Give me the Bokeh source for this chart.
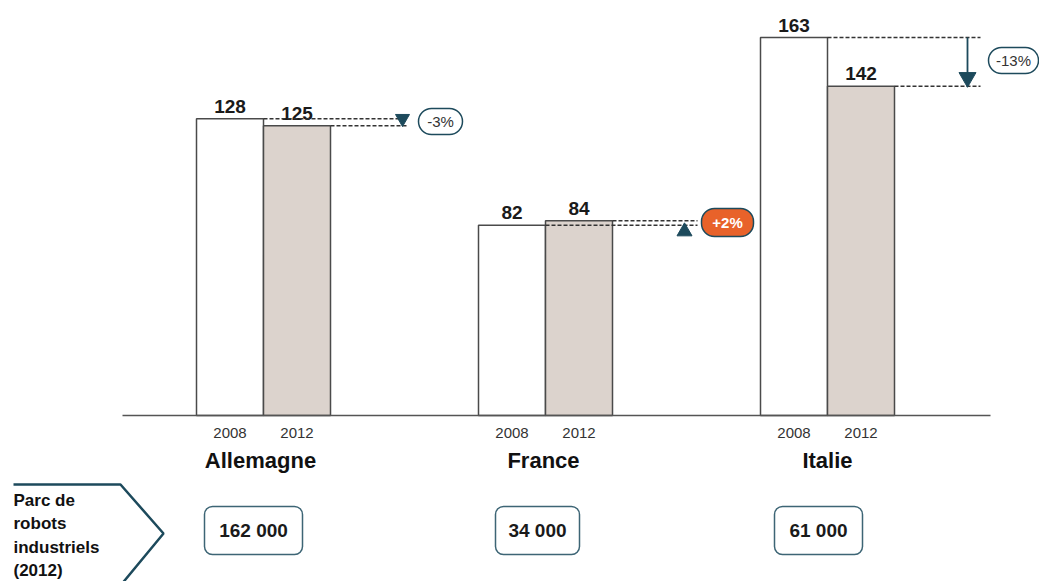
from bokeh.plotting import figure
from bokeh.models import Range1d
from bokeh.core.properties import value
from bokeh.embed import file_html
from bokeh.resources import INLINE

countries = ["Allemagne", "France", "Italie"]
years = ["2008", "2012"]
v2008 = [128, 82, 163]
v2012 = [125, 84, 142]
changes = ["-3%", "+2%", "-13%"]
parc = ["162 000", "34 000", "61 000"]
side_label = "Parc de\nrobots\nindustriels\n(2012)"

W, H = 1039, 581
K = 2.319  # px per unit
BASE = 415  # screen y of baseline
def Y(py):
    return (BASE - py) / K

p = figure(width=W, height=H, output_backend="svg", toolbar_location=None,
           x_range=Range1d(0, W), y_range=Range1d(Y(H), Y(0)),
           min_border=0, outline_line_color=None)
p.axis.visible = False
p.grid.visible = False
p.background_fill_color = "white"

centers = [263, 545, 827]
bw = 67
x08 = [c - bw / 2 for c in centers]
x12 = [c + bw / 2 for c in centers]

SANS = value("Liberation Sans")
edge = "#4a4a4a"

p.vbar(x=x08, top=v2008, bottom=0, width=bw, fill_color="white", line_color=edge, line_width=1.5)
p.vbar(x=x12, top=v2012, bottom=0, width=bw, fill_color="#dcd3cd", line_color=edge, line_width=1.5)

# baseline
p.segment(x0=[122], y0=[0], x1=[990], y1=[0], line_color="#555555", line_width=1.5)

# value labels
p.text(x=x08 + x12, y=v2008 + v2012, text=[str(v) for v in v2008 + v2012],
       text_font=SANS, text_font_style="bold", text_font_size="19px",
       text_align="center", text_baseline="bottom", y_offset=-6, text_color="#1a1a1a")

# year labels
p.text(x=x08 + x12, y=[Y(432)] * 6, text=[years[0]] * 3 + [years[1]] * 3,
       text_font=SANS, text_font_size="15px", text_align="center",
       text_baseline="middle", text_color="#333333")

# country labels
p.text(x=[260, 543, 827], y=[Y(460)] * 3, text=countries, text_font=SANS,
       text_font_style="bold", text_font_size="22px", text_align="center",
       text_baseline="middle", text_color="#111111")

# dashed change lines
p.segment(x0=centers, y0=v2008, x1=[400, 697, 980], y1=v2008,
          line_color="#333333", line_dash="4 2", line_width=1.5)
p.segment(x0=[c + bw for c in centers], y0=v2012, x1=[406, 697, 980], y1=v2012,
          line_color="#333333", line_dash="4 2", line_width=1.5)

teal = "#1d4a5c"
# Allemagne marker
p.scatter(x=[402], y=[Y(118)], marker="inverted_triangle", size=14, color=teal)
# France marker
p.scatter(x=[684], y=[Y(231)], marker="triangle", size=15, color=teal)
# Italie arrow
p.segment(x0=[967], y0=[v2008[2]], x1=[967], y1=[Y(75)], line_color=teal, line_width=1.8)
p.scatter(x=[967], y=[Y(77)], marker="inverted_triangle", size=17, color=teal)

# badges
bx = [440, 727, 1013]
by = [121, 222, 60]
bwid = [44, 52, 50]
bh = [26, 28, 26]
fills = ["white", "#e8622a", "white"]
tcol = ["#333333", "white", "#333333"]
for i in range(3):
    p.quad(left=bx[i] - bwid[i] / 2, right=bx[i] + bwid[i] / 2,
           top=Y(by[i] - bh[i] / 2), bottom=Y(by[i] + bh[i] / 2),
           fill_color=fills[i], line_color=teal, line_width=1.5, border_radius=13)
    p.text(x=[bx[i]], y=[Y(by[i])], text=[changes[i]], text_font=SANS,
           text_font_size="15px", text_align="center", text_baseline="middle",
           text_color=tcol[i], text_font_style="bold" if i == 1 else "normal")

# side chevron
p.line(x=[13, 120, 163, 120], y=[Y(484), Y(484), Y(533), Y(585)], line_color=teal, line_width=2.5)
for j, line in enumerate(side_label.split("\n")):
    p.text(x=[13], y=[Y(500 + j * 23.3)], text=[line], text_font=SANS, text_font_style="bold",
           text_font_size="17px", text_align="left", text_baseline="middle", text_color="#111111")

# parc boxes
pcx = [253, 537, 818]
pw = [98, 84, 88]
for i in range(3):
    p.quad(left=pcx[i] - pw[i] / 2, right=pcx[i] + pw[i] / 2, top=Y(506), bottom=Y(554),
           fill_color="white", line_color="#3d6575", line_width=1.5, border_radius=8)
p.text(x=pcx, y=[Y(530)] * 3, text=parc, text_font=SANS, text_font_style="bold",
       text_font_size="19px", text_align="center", text_baseline="middle", text_color="#1a1a1a")

open("out.html", "w").write(file_html(p, INLINE))
